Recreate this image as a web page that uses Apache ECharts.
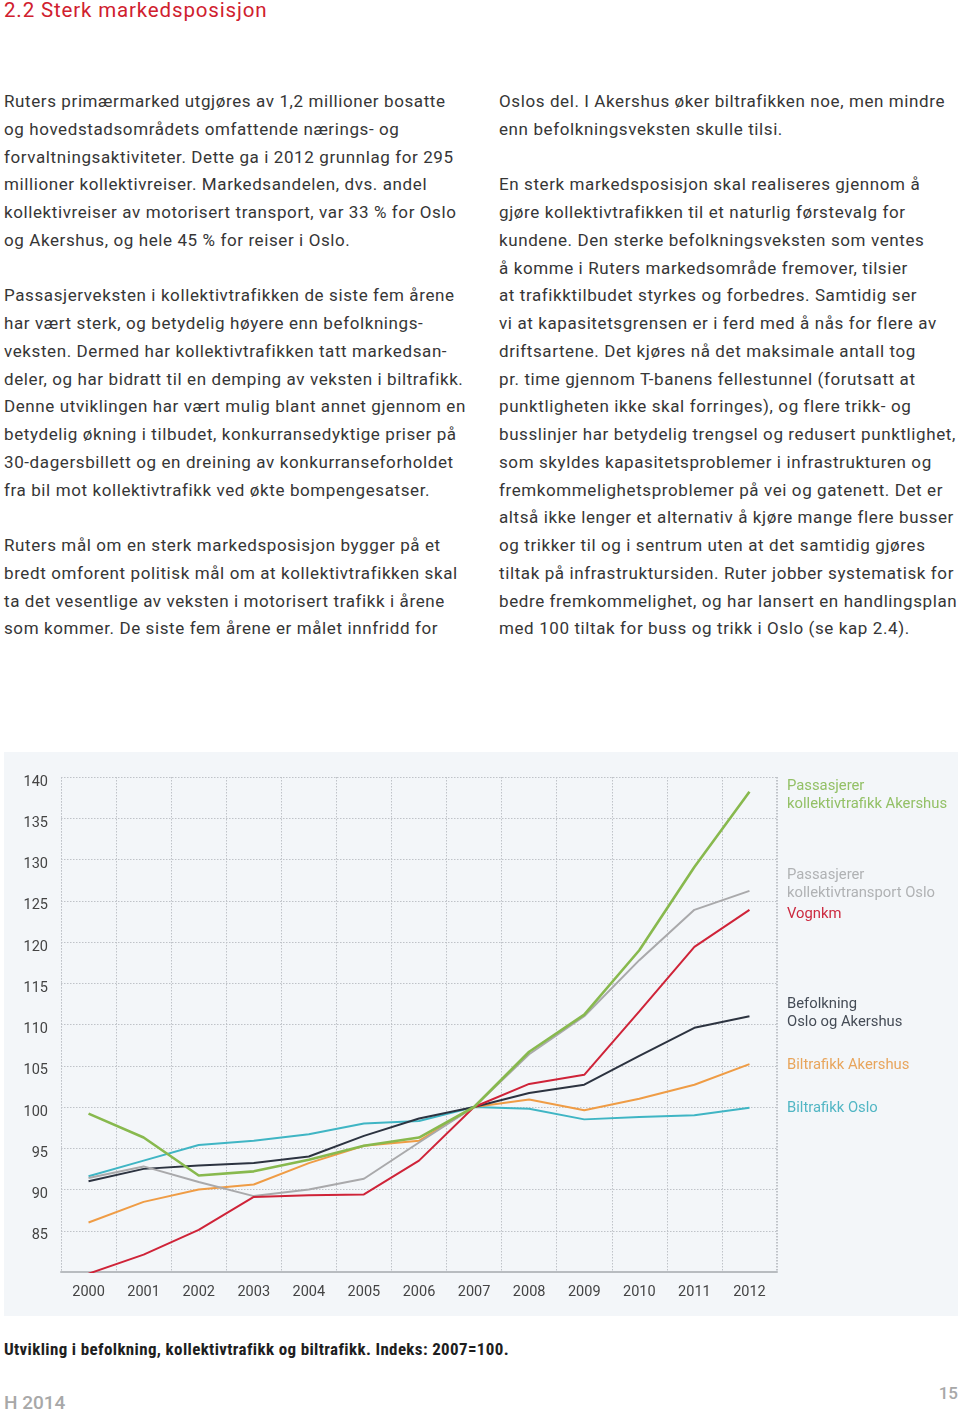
<!DOCTYPE html>
<html>
<head>
<meta charset="utf-8">
<script src="https://cdn.jsdelivr.net/npm/echarts@6/dist/echarts.min.js"></script>
<style>
  html, body { margin:0; padding:0; background:#fff; }
  body { width:960px; height:1412px; position:relative; overflow:hidden; font-family: Roboto, "Noto Sans", sans-serif; }
  .t { position:absolute; white-space:nowrap; font-size:17px; letter-spacing:0.6px; line-height:28px; color:#363636; }
  #title { position:absolute; left:4px; top:-4px; font-size:20.5px; letter-spacing:0.85px; line-height:28px; color:#d0202e; white-space:nowrap; }
  #caption { position:absolute; left:4px; top:1338px; font-family:"Liberation Sans Narrow","Roboto Condensed",Roboto,sans-serif; font-weight:bold; font-size:17px; letter-spacing:0.35px; line-height:22px; color:#1e1e1e; white-space:nowrap; }
  #foot { position:absolute; left:4px; top:1391px; font-size:19px; line-height:24px; color:#a8a8a8; white-space:nowrap; font-weight:500; }
  #page { position:absolute; right:2px; top:1382px; font-size:17px; line-height:22px; color:#a8a8a8; font-weight:500; }
  #chart { position:absolute; left:4px; top:752px; width:954px; height:564px; background:#f3f6f9; }
</style>
</head>
<body>
<div id="title">2.2 Sterk markedsposisjon</div>
<div id="cols"></div>
<div id="chart"></div>
<div id="caption">Utvikling i befolkning, kollektivtrafikk og biltrafikk. Indeks: 2007=100.</div>
<div id="foot">H 2014</div>
<div id="page">15</div>
<script>
// ---- text content ----
var leftLines = [
  [100, "Ruters primærmarked utgjøres av 1,2 millioner bosatte"],
  [128, "og hovedstadsområdets omfattende nærings- og"],
  [156, "forvaltningsaktiviteter. Dette ga i 2012 grunnlag for 295"],
  [183, "millioner kollektivreiser. Markedsandelen, dvs. andel"],
  [211, "kollektivreiser av motorisert transport, var 33 % for Oslo"],
  [239, "og Akershus, og hele 45 % for reiser i Oslo."],
  [294, "Passasjerveksten i kollektivtrafikken de siste fem årene"],
  [322, "har vært sterk, og betydelig høyere enn befolknings-"],
  [350, "veksten. Dermed har kollektivtrafikken tatt markedsan-"],
  [378, "deler, og har bidratt til en demping av veksten i biltrafikk."],
  [405, "Denne utviklingen har vært mulig blant annet gjennom en"],
  [433, "betydelig økning i tilbudet, konkurransedyktige priser på"],
  [461, "30-dagersbillett og en dreining av konkurranseforholdet"],
  [489, "fra bil mot kollektivtrafikk ved økte bompengesatser."],
  [544, "Ruters mål om en sterk markedsposisjon bygger på et"],
  [572, "bredt omforent politisk mål om at kollektivtrafikken skal"],
  [600, "ta det vesentlige av veksten i motorisert trafikk i årene"],
  [627, "som kommer. De siste fem årene er målet innfridd for"]
];
var rightLines = [
  [100, "Oslos del. I Akershus øker biltrafikken noe, men mindre"],
  [128, "enn befolkningsveksten skulle tilsi."],
  [183, "En sterk markedsposisjon skal realiseres gjennom å"],
  [211, "gjøre kollektivtrafikken til et naturlig førstevalg for"],
  [239, "kundene. Den sterke befolkningsveksten som ventes"],
  [267, "å komme i Ruters markedsområde fremover, tilsier"],
  [294, "at trafikktilbudet styrkes og forbedres. Samtidig ser"],
  [322, "vi at kapasitetsgrensen er i ferd med å nås for flere av"],
  [350, "driftsartene. Det kjøres nå det maksimale antall tog"],
  [378, "pr. time gjennom T-banens fellestunnel (forutsatt at"],
  [405, "punktligheten ikke skal forringes), og flere trikk- og"],
  [433, "busslinjer har betydelig trengsel og redusert punktlighet,"],
  [461, "som skyldes kapasitetsproblemer i infrastrukturen og"],
  [489, "fremkommelighetsproblemer på vei og gatenett. Det er"],
  [516, "altså ikke lenger et alternativ å kjøre mange flere busser"],
  [544, "og trikker til og i sentrum uten at det samtidig gjøres"],
  [572, "tiltak på infrastruktursiden. Ruter jobber systematisk for"],
  [600, "bedre fremkommelighet, og har lansert en handlingsplan"],
  [627, "med 100 tiltak for buss og trikk i Oslo (se kap 2.4)."]
];
(function(){
  var c = document.getElementById('cols');
  function add(lines, x){
    lines.forEach(function(l){
      var d = document.createElement('div');
      d.className = 't';
      d.style.left = x + 'px';
      d.style.top = (l[0] - 13) + 'px';
      d.textContent = l[1];
      c.appendChild(d);
    });
  }
  add(leftLines, 4);
  add(rightLines, 499);
})();

// ---- chart data ----
var years = ["2000","2001","2002","2003","2004","2005","2006","2007","2008","2009","2010","2011","2012"];
var yTicks = [85, 90, 95, 100, 105, 110, 115, 120, 125, 130, 135, 140];
var passAkershus = [99.2, 96.3, 91.7, 92.2, 93.6, 95.3, 96.3, 100, 106.7, 111.2, 119.0, 129.1, 138.2];
var passOslo     = [91.4, 92.8, 90.9, 89.2, 90.0, 91.3, 95.7, 100, 106.4, 111.0, 117.8, 123.9, 126.2];
var vognkm       = [79.8, 82.1, 85.1, 89.1, 89.3, 89.4, 93.5, 100, 102.8, 103.9, 111.6, 119.4, 123.9];
var befolkning   = [91.0, 92.5, 92.9, 93.2, 94.0, 96.5, 98.6, 100, 101.7, 102.7, 106.2, 109.6, 111.0];
var bilAkershus  = [86.0, 88.5, 90.0, 90.6, 93.2, 95.3, 95.9, 100, 100.9, 99.6, 101.0, 102.7, 105.2];
var bilOslo      = [91.6, 93.5, 95.4, 95.9, 96.7, 98.0, 98.3, 100, 99.8, 98.5, 98.8, 99.0, 99.9];

var seriesNames = ["Biltrafikk Oslo","Biltrafikk Akershus","Befolkning Oslo og Akershus","Passasjerer kollektivtransport Oslo","Vognkm","Passasjerer kollektivtrafikk Akershus"];
var seriesData = [bilOslo, bilAkershus, befolkning, passOslo, vognkm, passAkershus];
var seriesColors = ["#3fb5c4","#ef9c45","#2c3340","#a9a9ab","#cf2338","#88b94e"];
var seriesWidths = [2, 2, 2, 2, 2, 2.6];

var chart = echarts.init(document.getElementById('chart'), null, {renderer:'canvas'});
var gridStyle = { color:'#bfc3c8', width:1, type:[1.5,1.5] };

var graphicLabels = [
  {x:783, y:36, lines:["Passasjerer","kollektivtrafikk Akershus"], color:"#93c066"},
  {x:783, y:125, lines:["Passasjerer","kollektivtransport Oslo"], color:"#b0b2b4"},
  {x:783, y:164, lines:["Vognkm"], color:"#cc2a40"},
  {x:783, y:254, lines:["Befolkning","Oslo og Akershus"], color:"#454c56"},
  {x:783, y:315, lines:["Biltrafikk Akershus"], color:"#e8a55c"},
  {x:783, y:358, lines:["Biltrafikk Oslo"], color:"#52b6c4"}
];
var graphics = [];
graphicLabels.forEach(function(g){
  g.lines.forEach(function(t, i){
    graphics.push({ type:'text', left:g.x, top:g.y - 9 + i*18,
      style:{ text:t, fill:g.color, font:'14.8px Roboto, sans-serif' } });
  });
});

chart.setOption({
  animation:false,
  backgroundColor:'#f3f6f9',
  grid:{ left:57, top:25, width:716, height:495 },
  xAxis:{
    type:'category', data:years, boundaryGap:true,
    axisLine:{ show:true, lineStyle:{ color:'#b8bcc0', width:2 } },
    axisTick:{ show:false },
    axisLabel:{ color:'#444', fontSize:14.5, fontFamily:'Roboto, sans-serif', margin:13 },
    splitLine:{ show:true, lineStyle:gridStyle }
  },
  yAxis:{
    type:'value', min:80, max:140, interval:5,
    axisLine:{ show:false }, axisTick:{ show:false },
    axisLabel:{ color:'#444', fontSize:14.5, fontFamily:'Roboto, sans-serif', margin:13,
      verticalAlign:'top', lineHeight:10,
      formatter:function(v){ return yTicks.indexOf(v) >= 0 ? String(v) : ''; } },
    splitLine:{ show:true, lineStyle:gridStyle }
  },
  graphic: graphics.concat([
    { type:'line', shape:{x1:57.5, y1:25, x2:57.5, y2:520}, style:{ stroke:'#bfc3c8', lineDash:[1.5,1.5], lineWidth:1 }, z:0 },
    { type:'line', shape:{x1:772.5, y1:25, x2:772.5, y2:520}, style:{ stroke:'#bfc3c8', lineDash:[1.5,1.5], lineWidth:1 }, z:0 }
  ]),
  series: seriesData.map(function(d, i){
    return { name:seriesNames[i], type:'line', data:d, symbol:'none', smooth:false,
      lineStyle:{ color:seriesColors[i], width:seriesWidths[i] }, z:2+i };
  })
});
</script>
</body>
</html>
